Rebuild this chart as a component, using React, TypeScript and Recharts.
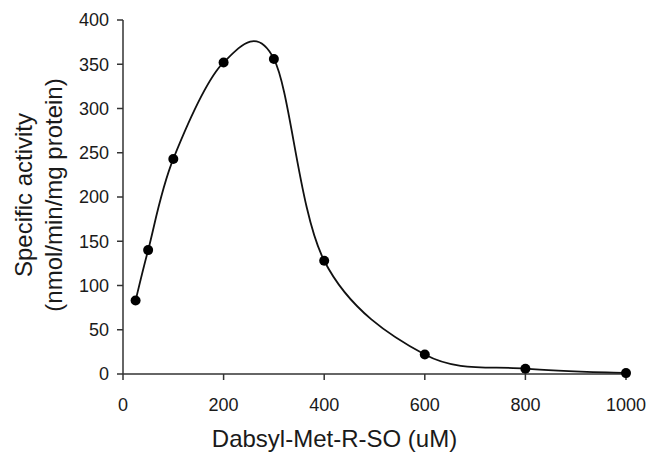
import React from "react";
import { LineChart, Line, XAxis, YAxis } from "recharts";

// substrate concentration (uM) and specific activity (nmol/min/mg protein)
const concentration = [25, 50, 100, 200, 300, 400, 600, 800, 1000];
const activity = [83, 140, 243, 352, 356, 128, 22, 6, 1];

const xTicks = [0, 200, 400, 600, 800, 1000];
const yTicks = [0, 50, 100, 150, 200, 250, 300, 350, 400];

const data = concentration.map((c, i) => ({ c, v: activity[i] }));

const FONT = "'Liberation Sans', Arial, Helvetica, sans-serif";

// Excel-style smoothed line (Catmull-Rom through the points)
function smoothCurve(context: any) {
    let pts: number[][] = [];
    return {
        areaStart() {},
        areaEnd() {},
        lineStart() { pts = []; },
        point(x: number, y: number) { pts.push([+x, +y]); },
        lineEnd() {
            const n = pts.length;
            if (!n) return;
            context.moveTo(pts[0][0], pts[0][1]);
            for (let i = 0; i < n - 1; i++) {
                const p0 = pts[Math.max(i - 1, 0)];
                const p1 = pts[i];
                const p2 = pts[i + 1];
                const p3 = pts[Math.min(i + 2, n - 1)];
                context.bezierCurveTo(
                    p1[0] + (p2[0] - p0[0]) / 6, p1[1] + (p2[1] - p0[1]) / 6,
                    p2[0] - (p3[0] - p1[0]) / 6, p2[1] - (p3[1] - p1[1]) / 6,
                    p2[0], p2[1]
                );
            }
        },
    };
}

const YTitle = (props: any) => {
    const vb = props.viewBox;
    const cy = vb.y + vb.height / 2 - 2;
    return (
        <text transform={`translate(32, ${cy}) rotate(-90)`} textAnchor="middle"
            fontFamily={FONT} fontSize={24} fill="#1a1a1a">
            <tspan x={0} y={0}>Specific activity</tspan>
            <tspan x={0} dy={30}>(nmol/min/mg protein)</tspan>
        </text>
    );
};

const XTitle = (props: any) => {
    const vb = props.viewBox;
    return (
        <text x={vb.x + vb.width / 2 - 40} y={447} textAnchor="middle"
            fontFamily={FONT} fontSize={24} fill="#1a1a1a">
            Dabsyl-Met-R-SO (uM)
        </text>
    );
};

export default function App() {
    return (
        <div style={{ position: "absolute", left: 0, top: 0, background: "#fff" }}>
            <LineChart width={647} height={453} data={data}
                margin={{ top: 20, right: 21, left: 0, bottom: 0 }}>
                <XAxis dataKey="c" type="number" domain={[0, 1000]} ticks={xTicks}
                    height={79} tickSize={6} tickMargin={18}
                    stroke="#333" strokeWidth={1.5}
                    tick={{ fontSize: 18, fontFamily: FONT, fill: "#1a1a1a" }}
                    label={{ content: XTitle }} />
                <YAxis type="number" domain={[0, 400]} ticks={yTicks} width={123}
                    tickSize={6} tickMargin={8} stroke="#333" strokeWidth={1.5}
                    tick={{ fontSize: 18, fontFamily: FONT, fill: "#1a1a1a" }}
                    label={{ content: YTitle }} />
                <Line dataKey="v" type={smoothCurve as any} stroke="#111" strokeWidth={1.8}
                    dot={{ r: 5, fill: "#000", stroke: "#000", strokeWidth: 0 }}
                    activeDot={false} isAnimationActive={false} />
            </LineChart>
        </div>
    );
}
